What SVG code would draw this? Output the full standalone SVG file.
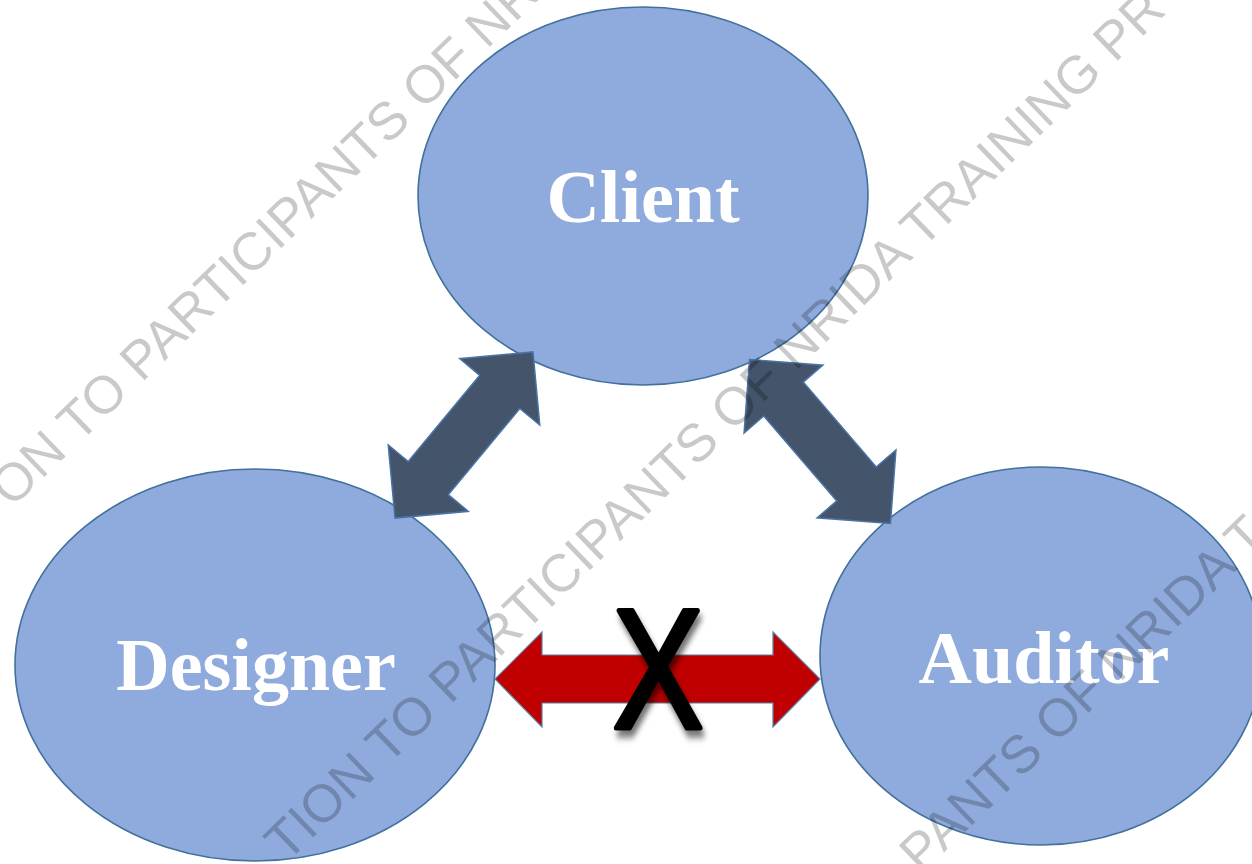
<svg xmlns="http://www.w3.org/2000/svg" width="1252" height="864" viewBox="0 0 1252 864">
  <style>
    .node { fill: #8FAADC; stroke: #41719C; stroke-width: 1.6; }
    .label { font-family: "Liberation Serif", "Times New Roman", serif; font-weight: bold; font-size: 74px; fill: #FFFFFF; text-anchor: middle; }
    .dark { fill: #44546A; stroke: #4A74A6; stroke-width: 1.5; stroke-linejoin: miter; }
    .red { fill: #C00000; stroke: #5B7FA8; stroke-width: 1.2; }
    .cross { font-family: "Liberation Sans", Arial, sans-serif; font-size: 170px; fill: #000000; stroke: #000000; stroke-width: 5; stroke-linejoin: round; text-anchor: middle; }
    .wm { font-family: "Liberation Sans", Arial, sans-serif; font-size: 53px; fill: #000000; fill-opacity: 0.21; }
  </style>
  <defs>
    <polygon id="dbl" points="-108,0 -56,-52 -56,-26 56,-26 56,-52 108,0 56,52 56,26 -56,26 -56,52"/>
    <filter id="shadow" x="-30%" y="-30%" width="160%" height="160%">
      <feDropShadow dx="3" dy="7" stdDeviation="3.5" flood-color="#000000" flood-opacity="0.55"/>
    </filter>
  </defs>
  <rect width="1252" height="864" fill="#FFFFFF"/>

  <g id="client">
    <ellipse class="node" cx="643" cy="196" rx="225" ry="189"/>
    <text class="label" x="643" y="222">Client</text>
  </g>
  <g id="designer">
    <ellipse class="node" cx="255" cy="665" rx="240" ry="196"/>
    <text class="label" x="256" y="690">Designer</text>
  </g>
  <g id="auditor">
    <ellipse class="node" cx="1041" cy="656" rx="221" ry="189"/>
    <text class="label" x="1044" y="683">Auditor</text>
  </g>

  <g id="connectors">
    <use href="#dbl" class="dark" transform="translate(464,435) rotate(-50.3)"/>
    <use href="#dbl" class="dark" transform="translate(820,441.5) rotate(49.3)"/>
    <polygon class="red" points="495,679 542,632 542,655 773,655 773,632 820,679 773,727 773,703 542,703 542,727"/>
    <text class="cross" x="0" y="0" transform="translate(658,728) scale(0.8,1)" filter="url(#shadow)">X</text>
  </g>

  <g id="watermark" transform="rotate(-44)">
    <text class="wm" x="-345" y="374">ON TO PARTICIPANTS OF NR</text>
    <text class="wm" x="-393.6" y="820">TION TO PARTICIPANTS OF NRIDA TRAINING PR</text>
    <text class="wm" x="55" y="1269">PANTS OF NRIDA T</text>
  </g>
</svg>
